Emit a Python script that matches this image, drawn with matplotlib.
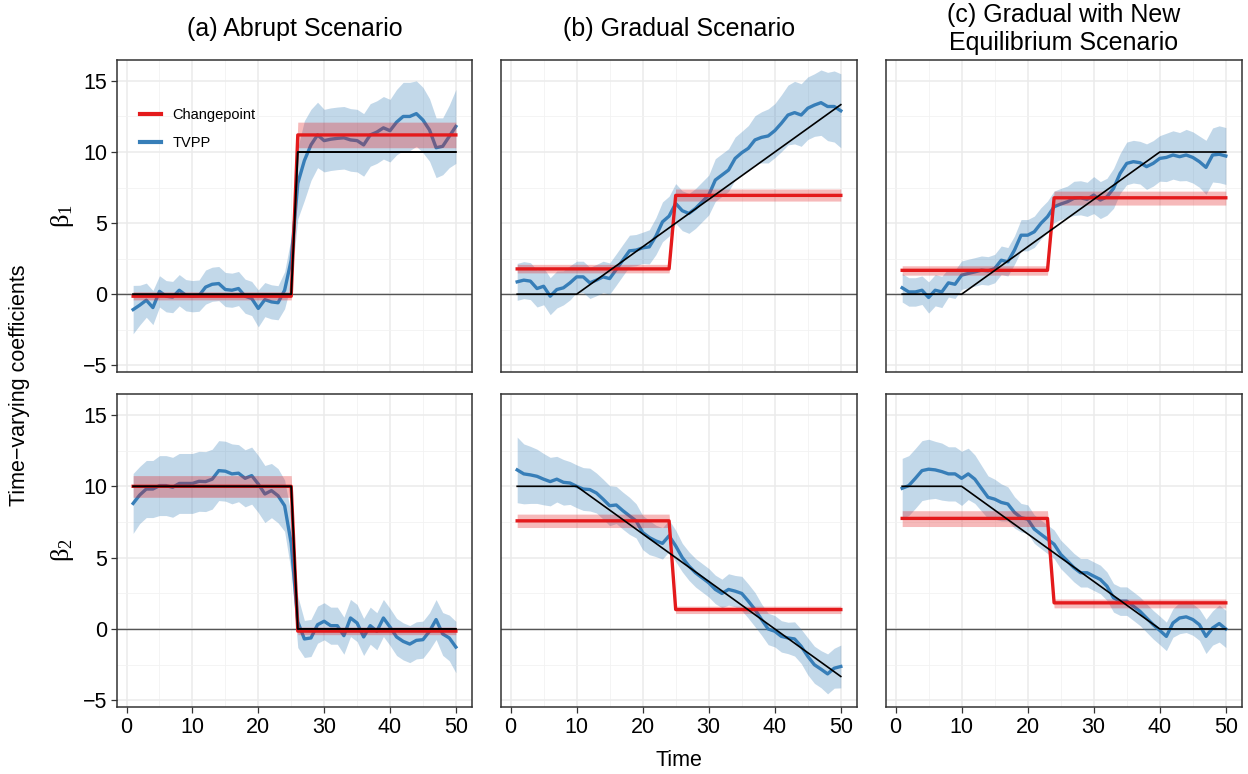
import numpy as np
import matplotlib
matplotlib.use("Agg")
import matplotlib.pyplot as plt
from matplotlib.lines import Line2D

plt.rcParams['font.family'] = ['Liberation Sans', 'DejaVu Sans']
plt.rcParams['mathtext.fontset'] = 'custom'
plt.rcParams['mathtext.rm'] = 'Liberation Serif'
plt.rcParams['mathtext.it'] = 'Liberation Serif:italic'

# ---------------- data ----------------
time = np.arange(1, 51)

col_titles = ["(a) Abrupt Scenario", "(b) Gradual Scenario",
              "(c) Gradual with New\nEquilibrium Scenario"]
row_labels = [r"$\mathrm{\beta_1}$", r"$\mathrm{\beta_2}$"]
legend_labels = ["Changepoint", "TVPP"]

# TVPP posterior mean
tvpp_a1 = [-1.08, -0.77, -0.42, -0.94, 0.2, -0.14, -0.2, 0.28, -0.07, -0.14,
           -0.1, 0.5, 0.7, 0.75, 0.33, 0.28, 0.4, -0.14, -0.3, -1.0,
           -0.38, -0.54, -0.6, 0.28, 2.4, 7.8, 9.4, 10.5, 11.2, 10.8,
           10.9, 10.96, 11.0, 10.85, 10.8, 10.5, 11.2, 11.4, 11.7, 11.5,
           12.1, 12.5, 12.5, 12.7, 12.25, 11.55, 10.3, 10.4, 11.1, 11.8]
tvpp_b1 = [0.87, 0.99, 0.92, 0.4, 0.56, -0.14, 0.33, 0.45, 0.8, 1.22,
           1.22, 0.8, 0.99, 1.22, 1.1, 1.74, 2.4, 3.05, 3.1, 3.26,
           3.33, 4.08, 5.09, 5.49, 6.38, 5.87, 5.68, 6.03, 6.5, 6.97,
           8.03, 8.38, 8.73, 9.55, 9.95, 10.26, 10.85, 11.03, 11.13, 11.5,
           12.02, 12.6, 12.77, 12.6, 13.08, 13.3, 13.47, 13.2, 13.2, 12.9]
tvpp_c1 = [0.45, 0.16, 0.16, 0.28, -0.23, 0.28, 0.16, 0.8, 0.7, 1.34,
           1.46, 1.57, 1.69, 1.64, 1.8, 2.39, 2.28, 3.1, 4.15, 4.15,
           4.39, 4.98, 5.45, 6.15, 6.34, 6.5, 6.74, 6.78, 6.67, 6.97,
           6.62, 6.85, 7.44, 8.5, 9.2, 9.32, 9.25, 8.97, 9.2, 9.55,
           9.62, 9.79, 9.67, 9.79, 9.62, 9.32, 8.92, 9.79, 9.84, 9.72]
tvpp_a2 = [8.8, 9.39, 9.81, 9.81, 10.05, 10.05, 9.93, 10.2, 10.2, 10.2,
           10.35, 10.33, 10.5, 11.1, 11.06, 10.87, 10.92, 10.56, 10.75, 10.16,
           9.46, 9.7, 9.34, 8.64, 6.0, 0.5, -0.7, -0.63, 0.3, 0.54,
           0.23, 0.23, -0.47, 0.77, 0.42, -0.56, 0.23, -0.16, 0.77, 0.14,
           -0.56, -0.87, -1.06, -0.8, -0.75, -0.16, 0.66, -0.35, -0.63, -1.27]
tvpp_b2 = [11.15, 10.87, 10.8, 10.7, 10.5, 10.33, 10.5, 10.28, 10.23, 10.0,
           9.81, 9.77, 9.53, 9.1, 8.64, 8.69, 8.29, 7.93, 7.58, 6.76,
           6.41, 6.17, 6.0, 6.53, 5.82, 5.0, 4.41, 3.94, 3.59, 3.24,
           2.77, 2.49, 2.77, 2.65, 2.49, 1.95, 1.36, 0.66, 0.0, -0.16,
           -0.52, -0.63, -0.7, -1.22, -1.92, -2.51, -2.82, -3.15, -2.75, -2.63]
tvpp_c2 = [9.86, 10.05, 10.56, 11.1, 11.2, 11.15, 11.03, 10.87, 10.87, 10.56,
           10.87, 10.5, 9.86, 9.23, 9.1, 8.87, 8.76, 8.17, 7.8, 7.7,
           7.0, 6.64, 6.29, 5.94, 5.23, 4.77, 4.3, 3.94, 3.94, 3.7,
           3.47, 3.0, 2.18, 1.95, 1.95, 1.6, 1.24, 0.77, 0.3, -0.1,
           -0.52, 0.42, 0.77, 0.85, 0.66, 0.3, -0.52, 0.07, 0.38, 0.0]

# TVPP credible band half-widths
band_a1 = [1.7, 1.4, 1.2, 1.2, 1.1, 1.1, 1.1, 1.1, 1.1, 1.1,
           1.1, 1.2, 1.2, 1.2, 1.2, 1.2, 1.2, 1.2, 1.2, 1.3,
           1.2, 1.2, 1.2, 1.3, 1.6, 2.5, 2.8, 2.5, 2.3, 2.2,
           2.2, 2.2, 2.2, 2.2, 2.2, 2.2, 2.2, 2.2, 2.2, 2.2,
           2.3, 2.4, 2.4, 2.3, 2.3, 2.2, 2.1, 2.0, 2.2, 2.6]
band_b1 = [1.3, 1.3, 1.3, 1.3, 1.3, 1.3, 1.3, 1.2, 1.2, 1.1,
           1.1, 1.1, 1.1, 1.1, 1.1, 1.1, 1.1, 1.1, 1.1, 1.1,
           1.2, 1.3, 1.4, 1.4, 1.4, 1.4, 1.4, 1.4, 1.4, 1.4,
           1.5, 1.5, 1.5, 1.5, 1.5, 1.6, 1.7, 1.8, 1.9, 1.9,
           2.0, 2.1, 2.2, 2.2, 2.2, 2.2, 2.3, 2.4, 2.5, 2.6]
band_c1 = [1.0, 1.0, 1.0, 1.0, 1.1, 1.1, 1.1, 1.0, 1.0, 1.0,
           1.0, 1.0, 1.0, 1.0, 1.0, 1.0, 1.0, 1.0, 1.1, 1.1,
           1.1, 1.1, 1.1, 1.1, 1.1, 1.1, 1.2, 1.2, 1.2, 1.3,
           1.3, 1.3, 1.4, 1.4, 1.5, 1.5, 1.5, 1.6, 1.6, 1.6,
           1.7, 1.7, 1.7, 1.8, 1.8, 1.8, 1.9, 1.9, 2.0, 2.0]
band_a2 = [2.1, 2.0, 2.0, 2.0, 2.1, 2.1, 2.1, 2.1, 2.1, 2.1,
           2.1, 2.1, 2.1, 2.1, 2.1, 2.1, 2.0, 2.0, 2.0, 2.0,
           2.0, 1.9, 1.9, 1.8, 2.0, 1.8, 1.3, 1.3, 1.3, 1.3,
           1.3, 1.3, 1.3, 1.3, 1.3, 1.3, 1.3, 1.3, 1.3, 1.3,
           1.3, 1.3, 1.3, 1.3, 1.3, 1.3, 1.4, 1.5, 1.6, 1.8]
band_b2 = [2.3, 2.1, 2.0, 1.9, 1.8, 1.7, 1.6, 1.6, 1.5, 1.5,
           1.5, 1.5, 1.4, 1.4, 1.4, 1.3, 1.3, 1.3, 1.2, 1.2,
           1.2, 1.1, 1.1, 1.1, 1.1, 1.0, 1.0, 1.0, 1.0, 1.0,
           1.0, 1.0, 1.1, 1.1, 1.2, 1.2, 1.2, 1.1, 1.1, 1.1,
           1.1, 1.1, 1.2, 1.2, 1.3, 1.3, 1.3, 1.4, 1.4, 1.5]
band_c2 = [2.1, 2.1, 2.1, 2.1, 2.1, 2.0, 2.0, 1.9, 1.9, 1.9,
           1.8, 1.7, 1.6, 1.5, 1.4, 1.3, 1.2, 1.1, 1.0, 1.0,
           1.0, 1.0, 1.0, 1.0, 1.0, 1.0, 1.0, 1.0, 1.0, 1.0,
           1.0, 1.0, 1.0, 1.0, 1.0, 1.0, 1.0, 1.0, 1.0, 1.0,
           1.0, 1.0, 1.1, 1.1, 1.1, 1.1, 1.2, 1.2, 1.3, 1.3]

# Changepoint model: knots, estimate and band
cp_t_a = [1, 25, 26, 50]
cp_t_b = [1, 24, 25, 50]
cp_t_c = [1, 23, 24, 50]
cp_est_a1 = [-0.14, -0.14, 11.2, 11.2]
cp_lo_a1 = [-0.4, -0.4, 10.3, 10.3]
cp_hi_a1 = [0.17, 0.17, 12.1, 12.1]
cp_est_b1 = [1.78, 1.78, 6.95, 6.95]
cp_lo_b1 = [1.5, 1.5, 6.55, 6.55]
cp_hi_b1 = [2.1, 2.1, 7.4, 7.4]
cp_est_c1 = [1.68, 1.68, 6.78, 6.78]
cp_lo_c1 = [1.34, 1.34, 6.27, 6.27]
cp_hi_c1 = [2.0, 2.0, 7.25, 7.25]
cp_est_a2 = [10.0, 10.0, -0.15, -0.15]
cp_lo_a2 = [9.23, 9.23, -0.4, -0.4]
cp_hi_a2 = [10.75, 10.75, 0.14, 0.14]
cp_est_b2 = [7.58, 7.58, 1.36, 1.36]
cp_lo_b2 = [7.11, 7.11, 1.08, 1.08]
cp_hi_b2 = [8.05, 8.05, 1.6, 1.6]
cp_est_c2 = [7.75, 7.75, 1.83, 1.83]
cp_lo_c2 = [7.18, 7.18, 1.48, 1.48]
cp_hi_c2 = [8.29, 8.29, 2.1, 2.1]

# True coefficient paths (knots)
true_t_a = [1, 25, 26, 50]
true_a1 = [0, 0, 10, 10]
true_a2 = [10, 10, 0, 0]
true_t_b = [1, 10, 50]
true_b1 = [0, 0, 13.33]
true_b2 = [10, 10, -3.33]
true_t_c = [1, 10, 40, 50]
true_c1 = [0, 0, 10, 10]
true_c2 = [10, 10, 0, 0]

panels = [
    [(tvpp_a1, band_a1, cp_t_a, cp_est_a1, cp_lo_a1, cp_hi_a1, true_t_a, true_a1),
     (tvpp_b1, band_b1, cp_t_b, cp_est_b1, cp_lo_b1, cp_hi_b1, true_t_b, true_b1),
     (tvpp_c1, band_c1, cp_t_c, cp_est_c1, cp_lo_c1, cp_hi_c1, true_t_c, true_c1)],
    [(tvpp_a2, band_a2, cp_t_a, cp_est_a2, cp_lo_a2, cp_hi_a2, true_t_a, true_a2),
     (tvpp_b2, band_b2, cp_t_b, cp_est_b2, cp_lo_b2, cp_hi_b2, true_t_b, true_b2),
     (tvpp_c2, band_c2, cp_t_c, cp_est_c2, cp_lo_c2, cp_hi_c2, true_t_c, true_c2)],
]

# ---------------- style ----------------
RED = "#E41A1C"
BLUE = "#377EB8"
W, H = 1248, 774
col_x = [(117, 355), (501, 356), (886, 356)]
row_y = [(60, 312), (394, 313)]

fig = plt.figure(figsize=(W / 100, H / 100), dpi=100)

for r in range(2):
    for c in range(3):
        x0, w = col_x[c]
        y0, h = row_y[r]
        ax = fig.add_axes([x0 / W, 1 - (y0 + h) / H, w / W, h / H])
        tv, band, cpt, cpe, cpl, cph, tt, tv_true = panels[r][c]
        tv = np.asarray(tv)
        band = np.asarray(band)

        ax.fill_between(time, tv - band, tv + band, color=BLUE, alpha=0.3,
                        linewidth=0, zorder=2)
        ax.plot(time, tv, color=BLUE, lw=2.4, zorder=3, solid_joinstyle='round')
        ax.plot(cpt, cpe, color=RED, lw=2.4, zorder=4)
        ax.fill_between(cpt, cpl, cph, color=RED, alpha=0.3, linewidth=0, zorder=5)
        ax.plot(tt, tv_true, color='black', lw=1.4 if c == 0 else 1.2, zorder=6)
        ax.axhline(0, color='#555555', lw=1.0, zorder=1.5)

        ax.set_xlim(-1.45, 52.45)
        ax.set_ylim(-5.47, 16.47)
        ax.set_xticks([0, 10, 20, 30, 40, 50])
        ax.set_xticks([5, 15, 25, 35, 45], minor=True)
        ax.set_yticks([-5, 0, 5, 10, 15])
        ax.set_yticks([-2.5, 2.5, 7.5, 12.5], minor=True)
        ax.grid(which='major', color='#EBEBEB', lw=1.1)
        ax.grid(which='minor', color='#F2F2F2', lw=0.6)
        ax.set_axisbelow(True)
        ax.tick_params(which='minor', length=0)
        ax.tick_params(which='major', length=4, width=0.9, color='#333333',
                       labelsize=15.5, labelcolor='black', pad=3)
        if c > 0:
            ax.tick_params(left=False, labelleft=False)
        if r == 0:
            ax.tick_params(bottom=False, labelbottom=False)
        for sp in ax.spines.values():
            sp.set_color('#333333')
            sp.set_linewidth(1.1)

        if r == 0 and c == 0:
            handles = [Line2D([], [], color=RED, lw=3),
                       Line2D([], [], color=BLUE, lw=3)]
            ax.legend(handles, legend_labels, loc='upper left',
                      bbox_to_anchor=(0.065, 0.845), frameon=False,
                      fontsize=10.5, handlelength=1.45, handletextpad=0.75,
                      labelspacing=0.93, borderaxespad=0, borderpad=0)

# column titles
for c in range(3):
    x0, w = col_x[c]
    fig.text((x0 + w / 2) / W, 1 - 29 / H, col_titles[c], ha='center',
             va='center', fontsize=18, linespacing=1.2)

# row labels
for r in range(2):
    y0, h = row_y[r]
    fig.text(62 / W, 1 - (y0 + h / 2) / H, row_labels[r], rotation=90,
             ha='center', va='center', fontsize=19)

fig.text(20 / W, 1 - 385 / H, "Time\u2212varying coefficients", rotation=90,
         ha='center', va='center', fontsize=15.5)
fig.text(679 / W, 1 - 760 / H, "Time", ha='center', va='center', fontsize=15.5)

fig.savefig("out.png", dpi=100)
